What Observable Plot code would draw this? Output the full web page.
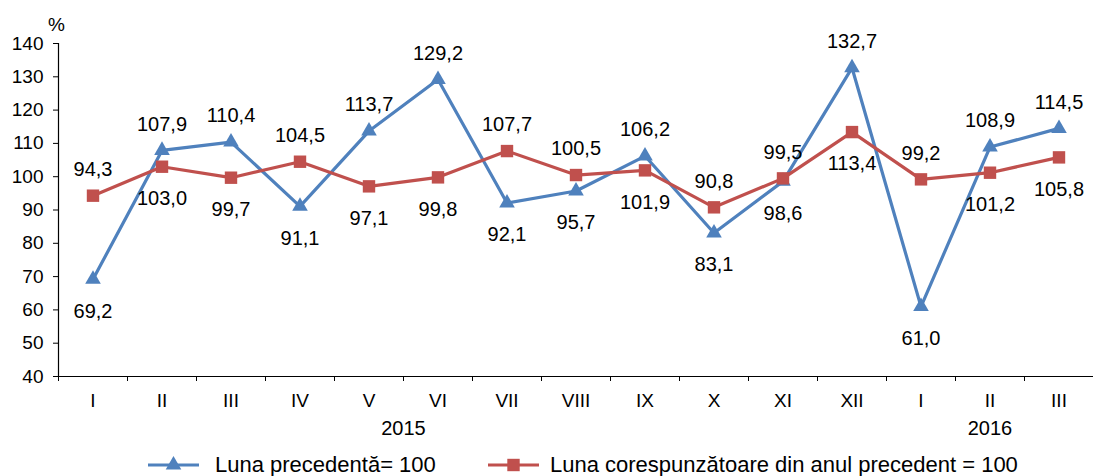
<!DOCTYPE html>
<html><head><meta charset="utf-8">
<script src="https://cdn.jsdelivr.net/npm/d3@7"></script>
<script src="https://cdn.jsdelivr.net/npm/@observablehq/plot@0.6"></script>
<style>
body{margin:0;background:#fff;font-family:"Liberation Sans",Arial,sans-serif;}
#legend{position:relative;height:40px;width:1093px;font-size:22px;color:#000;}
#legend .sw,#legend .lbl{position:absolute;top:0;height:40px;display:flex;align-items:center;white-space:nowrap;}
#legend svg{display:block;}
</style></head><body>
<div id="chart"></div>
<div id="legend"></div>
<script>
const months = ["I","II","III","IV","V","VI","VII","VIII","IX","X","XI","XII","I","II","III"];
const years = ["2015","2016"];
const yearAt = [5, 13.5];
const prevMonth = [69.2,107.9,110.4,91.1,113.7,129.2,92.1,95.7,106.2,83.1,98.6,132.7,61.0,108.9,114.5];
const prevYear = [94.3,103.0,99.7,104.5,97.1,99.8,107.7,100.5,101.9,90.8,99.5,113.4,99.2,101.2,105.8];
const yTicks = [40,50,60,70,80,90,100,110,120,130,140];
const seriesNames = ["Luna precedentă= 100","Luna corespunzătoare din anul precedent = 100"];
const colors = ["#4F81BD","#C0504D"];
const symbols = ["triangle","square"];

const values = [prevMonth, prevYear];
const rows = [];
values.forEach((arr, s) => arr.forEach((v, i) => rows.push({
  series: seriesNames[s], x: i + 0.5, v, above: v >= values[1 - s][i]
})));
const fmt = v => v.toFixed(1).replace(".", ",");
const monthRows = months.map((m, i) => ({m, x: i + 0.5}));
const yearRows = years.map((y, i) => ({y, x: yearAt[i]}));

const color = {domain: seriesNames, range: colors};

const chart = Plot.plot({
  width: 1093, height: 445,
  marginLeft: 58, marginRight: 0, marginTop: 43, marginBottom: 69,
  style: {fontFamily: '"Liberation Sans", Arial, sans-serif', fontSize: "19px", color: "#000", background: "#fff"},
  x: {type: "linear", domain: [0, months.length]},
  y: {domain: [40, 140]},
  color,
  marks: [
    Plot.axisY({ticks: yTicks, tickSize: 5, tickPadding: 10, fontSize: 19, label: null, stroke: "#000"}),
    Plot.axisX({ticks: d3.range(months.length), tickSize: 5, tickFormat: () => "", label: null, stroke: "#000"}),
    Plot.ruleY([40], {stroke: "#000", strokeWidth: 1.2}),
    Plot.ruleX([0], {stroke: "#000", strokeWidth: 1.2}),
    Plot.text(monthRows, {x: "x", text: "m", frameAnchor: "bottom", dy: 24, lineAnchor: "middle", fontSize: 19, fill: "#000"}),
    Plot.text(yearRows, {x: "x", text: "y", frameAnchor: "bottom", dy: 52, lineAnchor: "middle", fontSize: 20, fill: "#000"}),
    Plot.text(["%"], {frameAnchor: "top-left", dx: -2, dy: -19, lineAnchor: "middle", textAnchor: "middle", fontSize: 19, fill: "#000"}),
    Plot.line(rows.filter(d => d.series === seriesNames[0]), {x: "x", y: "v", stroke: "series", strokeWidth: 3.2}),
    Plot.dot(rows.filter(d => d.series === seriesNames[0]), {x: "x", y: "v", fill: "series", symbol: () => symbols[0], r: 5.8}),
    Plot.line(rows.filter(d => d.series === seriesNames[1]), {x: "x", y: "v", stroke: "series", strokeWidth: 3.2}),
    Plot.dot(rows.filter(d => d.series === seriesNames[1]), {x: "x", y: "v", fill: "series", symbol: () => symbols[1], r: 7}),
    Plot.text(rows.filter(d => d.above), {x: "x", y: "v", text: d => fmt(d.v), dy: -26, lineAnchor: "middle", fontSize: 20, fill: "#000"}),
    Plot.text(rows.filter(d => !d.above), {x: "x", y: "v", text: d => fmt(d.v), dy: 32, lineAnchor: "middle", fontSize: 20, fill: "#000"})
  ]
});
document.getElementById("chart").append(chart);

// legend
const legend = document.getElementById("legend");
const swatchAt = [148, 488];
const labelAt = [215, 550];
seriesNames.forEach((name, s) => {
  const sw = document.createElement("div");
  sw.className = "sw";
  sw.style.left = swatchAt[s] + "px";
  const sym = d3.symbol(s === 0 ? d3.symbolTriangle : d3.symbolSquare, Math.PI * (s === 0 ? 5.8 : 7) ** 2)();
  sw.innerHTML = `<svg width="52" height="20"><line x1="0" x2="51" y1="10" y2="10" stroke="${colors[s]}" stroke-width="3.2"/><path transform="translate(25.5,10)" d="${sym}" fill="${colors[s]}"/></svg>`;
  legend.append(sw);
  const lbl = document.createElement("div");
  lbl.className = "lbl";
  lbl.style.left = labelAt[s] + "px";
  lbl.textContent = name;
  legend.append(lbl);
});
</script>
</body></html>
